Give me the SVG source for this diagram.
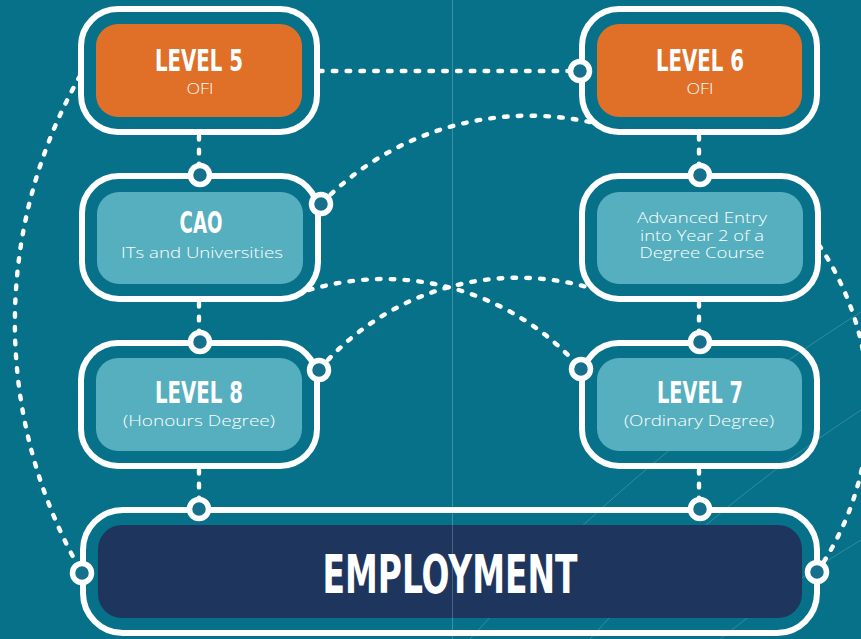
<svg xmlns="http://www.w3.org/2000/svg" width="861" height="639" viewBox="0 0 861 639">
<defs>
<style>
.bg{fill:#07718A}
.faint{fill:none;stroke:#ffffff;stroke-opacity:0.18;stroke-width:1}
.dot{fill:none;stroke:#ffffff;stroke-width:4.4;stroke-linecap:round;stroke-dasharray:3.6 10.2}
.ring{fill:none;stroke:#ffffff;stroke-width:6}
.orange{fill:#E07028}
.light{fill:#55AFBE}
.navy{fill:#1E355E}
.port{fill:#16708C;stroke:#ffffff;stroke-width:5.5}
.title{font-family:'Liberation Sans Narrow','DejaVu Sans Condensed','Liberation Sans',sans-serif;font-weight:bold;font-size:30px;fill:#ffffff;text-anchor:middle}
.big{font-size:53px}
.sub{font-family:'Open Sans','Lato','Liberation Sans',sans-serif;font-weight:300;font-size:15px;fill:#ffffff;text-anchor:middle}
.small{font-size:14px}
</style>
</defs>
<rect class="bg" x="0" y="0" width="861" height="639"/>
<g id="background-lines">
<path class="faint" d="M470 639 C560 540 690 420 861 312"/>
<path class="faint" d="M590 639 C660 560 740 490 861 410"/>
<path class="faint" d="M720 639 C770 600 810 570 861 540"/>
</g>
<g id="connectors">
<path class="dot" d="M319 71 H576"/>
<path class="dot" d="M199 136 V166"/>
<path class="dot" d="M699 136 V166"/>
<path class="dot" d="M199 303 V334"/>
<path class="dot" d="M699 303 V334"/>
<path class="dot" d="M199 470 V501"/>
<path class="dot" d="M699 470 V501"/>
<path class="dot" d="M321 204 A290 290 0 0 1 594 123"/>
<path class="dot" d="M309 290 A261 261 0 0 1 581 369"/>
<path class="dot" d="M319 370 A261 261 0 0 1 594 289"/>
<path class="dot" d="M80 76 A500 500 0 0 0 82 573"/>
<path class="dot" d="M819 245 A290 290 0 0 1 817 572"/>
</g>
<g id="level5">
<rect class="ring" x="81" y="9" width="236" height="123" rx="37"/>
<rect class="orange" x="96" y="24" width="206" height="93" rx="22"/>
<text class="title" x="199" y="71" textLength="88" lengthAdjust="spacingAndGlyphs">LEVEL 5</text>
<text class="sub small" x="200" y="94" textLength="27" lengthAdjust="spacingAndGlyphs">OFI</text>
</g>
<g id="level6">
<rect class="ring" x="582" y="9" width="235" height="123" rx="37"/>
<rect class="orange" x="597" y="24" width="205" height="93" rx="22"/>
<text class="title" x="700" y="71" textLength="88" lengthAdjust="spacingAndGlyphs">LEVEL 6</text>
<text class="sub small" x="700" y="94" textLength="27" lengthAdjust="spacingAndGlyphs">OFI</text>
<circle class="port" cx="580" cy="71" r="9.5"/>
</g>
<g id="cao">
<rect class="ring" x="82" y="176" width="236" height="123" rx="37"/>
<rect class="light" x="97" y="192" width="206" height="92" rx="22"/>
<text class="title" x="201" y="233" textLength="43" lengthAdjust="spacingAndGlyphs">CAO</text>
<text class="sub" x="202" y="258" textLength="162" lengthAdjust="spacingAndGlyphs">ITs and Universities</text>
<circle class="port" cx="200" cy="175" r="9.5"/>
<circle class="port" cx="321" cy="204" r="9.5"/>
</g>
<g id="advanced-entry">
<rect class="ring" x="582" y="176" width="236" height="123" rx="37"/>
<rect class="light" x="597" y="192" width="206" height="92" rx="22"/>
<text class="sub small" x="702" y="223" textLength="130" lengthAdjust="spacingAndGlyphs">Advanced Entry</text>
<text class="sub small" x="702" y="240.5" textLength="124" lengthAdjust="spacingAndGlyphs">into Year 2 of a</text>
<text class="sub small" x="702" y="258" textLength="125" lengthAdjust="spacingAndGlyphs">Degree Course</text>
<circle class="port" cx="700" cy="175" r="9.5"/>
</g>
<g id="level8">
<rect class="ring" x="81" y="343" width="236" height="123" rx="37"/>
<rect class="light" x="96" y="358" width="206" height="93" rx="22"/>
<text class="title" x="199" y="403" textLength="88" lengthAdjust="spacingAndGlyphs">LEVEL 8</text>
<text class="sub" x="199" y="426" textLength="152" lengthAdjust="spacingAndGlyphs">(Honours Degree)</text>
<circle class="port" cx="200" cy="342" r="9.5"/>
<circle class="port" cx="319" cy="370" r="9.5"/>
</g>
<g id="level7">
<rect class="ring" x="582" y="343" width="235" height="123" rx="37"/>
<rect class="light" x="597" y="358" width="205" height="93" rx="22"/>
<text class="title" x="700" y="403" textLength="86" lengthAdjust="spacingAndGlyphs">LEVEL 7</text>
<text class="sub" x="699" y="426" textLength="150" lengthAdjust="spacingAndGlyphs">(Ordinary Degree)</text>
<circle class="port" cx="700" cy="342" r="9.5"/>
<circle class="port" cx="581" cy="369" r="9.5"/>
</g>
<g id="employment">
<rect class="ring" x="83" y="510" width="734" height="123" rx="40"/>
<rect class="navy" x="98" y="525" width="704" height="93" rx="24"/>
<text class="title big" x="450" y="593" textLength="255" lengthAdjust="spacingAndGlyphs">EMPLOYMENT</text>
<circle class="port" cx="199" cy="509" r="9.5"/>
<circle class="port" cx="700" cy="509" r="9.5"/>
<circle class="port" cx="82" cy="573" r="9.5"/>
<circle class="port" cx="817" cy="572" r="9.5"/>
</g>
<line x1="452.5" y1="0" x2="452.5" y2="639" stroke="#ffffff" stroke-opacity="0.22" stroke-width="1"/>
</svg>
